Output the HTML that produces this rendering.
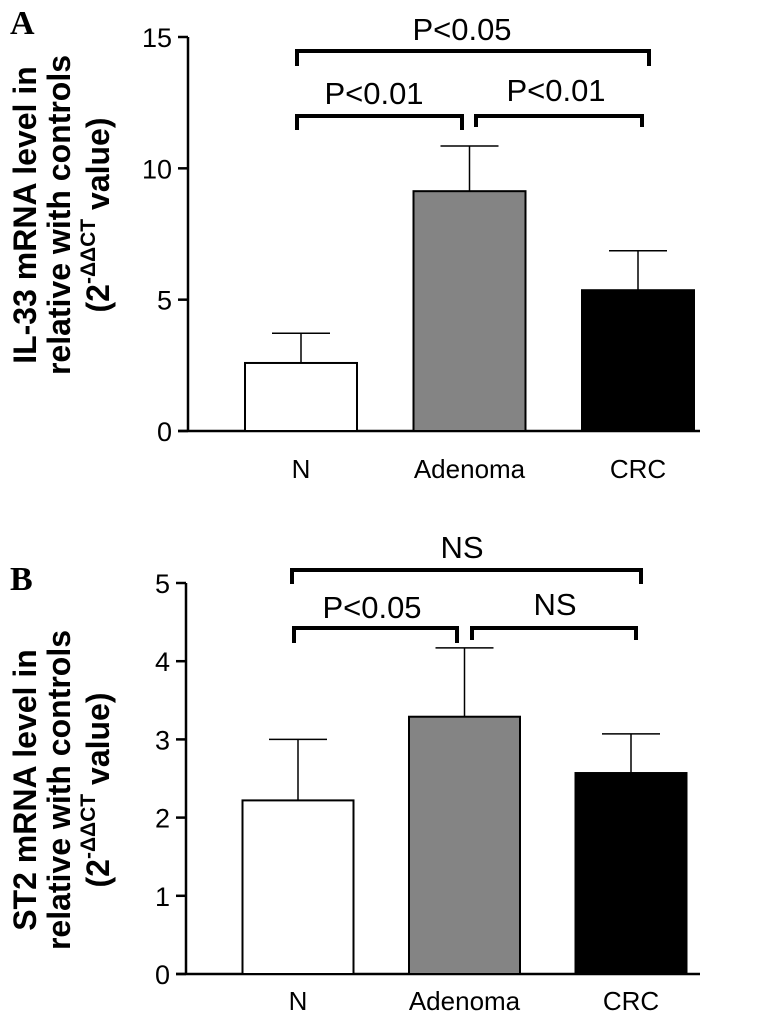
<!DOCTYPE html>
<html><head><meta charset="utf-8"><style>
html,body{margin:0;padding:0;background:#fff;}
svg{display:block;font-family:"Liberation Sans",Arial,sans-serif;}
</style></head><body>
<svg id="fig" width="783" height="1019" viewBox="0 0 783 1019" xmlns="http://www.w3.org/2000/svg"></svg>
<script>
const categories = ["N","Adenoma","CRC"];
const fills = ["#ffffff","#848484","#000000"];
const aValues = [2.59, 9.13, 5.36];
const aErrors = [3.72, 10.85, 6.86];
const aTicks = [0,5,10,15];
const bValues = [2.22, 3.29, 2.57];
const bErrors = [3.0, 4.17, 3.07];
const bTicks = [0,1,2,3,4,5];

const NS="http://www.w3.org/2000/svg";
const svg=document.getElementById('fig');
function el(tag,attrs,parent){const e=document.createElementNS(NS,tag);for(const k in attrs)e.setAttribute(k,attrs[k]);(parent||svg).appendChild(e);return e;}

function panel(cfg){
  const g=el('g',{});
  
  
  const y=v=>cfg.y0-(v/cfg.max)*(cfg.y0-cfg.yTop);
  const x=i=>cfg.x0+i*cfg.step;
  const ax=el('line',{x1:cfg.axisX,y1:cfg.yTop,x2:cfg.axisX,y2:cfg.y0,stroke:'#000','stroke-width':2.5},g);
  
  
  const xa=el('line',{x1:cfg.axisX-10,y1:cfg.y0,x2:cfg.xEnd,y2:cfg.y0,stroke:'#000','stroke-width':2.5},g);
  
  
  cfg.ticks.forEach(t=>{
    const tl=el('line',{x1:cfg.axisX-10,y1:y(t),x2:cfg.axisX,y2:y(t),stroke:'#000','stroke-width':2.5},g);
    
    
    const tx=el('text',{x:cfg.axisX-16,y:y(t)+10,'font-size':27,'text-anchor':'end'},g);
    tx.textContent=t;
    
    
  });
  cfg.values.forEach((v,i)=>{
    const cx=x(i);
    const ev=el('line',{x1:cx,y1:y(v),x2:cx,y2:y(cfg.errors[i]),stroke:'#000','stroke-width':1.5},g);
    
    
    const ec=el('line',{x1:cx-29,y1:y(cfg.errors[i]),x2:cx+29,y2:y(cfg.errors[i]),stroke:'#000','stroke-width':1.5},g);
    
    
    const r=el('rect',{x:cx-cfg.bw/2,y:y(v),width:cfg.bw,height:cfg.y0-y(v),fill:fills[i],stroke:'#000','stroke-width':2},g);
    
    
    const lb=el('text',{x:cx,y:cfg.labelY,'font-size':26,'text-anchor':'middle'},g);
    lb.textContent=categories[i];
    
    
  });
  cfg.brackets.forEach(b=>{
    const p=el('path',{d:`M${b.x1},${b.ty} V${b.y} H${b.x2} V${b.ty}`,fill:'none',stroke:'#000','stroke-width':4},g);
    
    
    const t=el('text',{x:b.lx,y:b.ly,'font-size':31,'text-anchor':'middle'},g);
    t.textContent=b.label;
    
    
  });
  const L=el('text',{x:10,y:cfg.letterY,'font-size':34,'font-weight':'bold','font-family':'Liberation Serif, serif'},g);
  L.textContent=cfg.letter;
  
  
  const tg=el('g',{transform:`translate(0,${cfg.titleY}) rotate(-90)`},g);
  
  
  const l1=el('text',{x:0,y:36,'font-size':32,'font-weight':'bold','text-anchor':'middle'},tg);
  l1.textContent=cfg.title1;
  const l2=el('text',{x:0,y:70,'font-size':32,'font-weight':'bold','text-anchor':'middle'},tg);
  l2.textContent='relative with controls';
  const l3=el('text',{x:0,y:109,'font-size':32,'font-weight':'bold','text-anchor':'middle'},tg);
  l3.innerHTML='(2<tspan dy="-14" font-size="21">-ΔΔCT</tspan><tspan dy="14"> value)</tspan>';
}

panel({name:'panel-a',letter:'A',letterY:34,title1:'IL-33 mRNA level in',titleY:215,
  values:aValues,errors:aErrors,ticks:aTicks,max:15,y0:431,yTop:37,axisX:188,xEnd:700,
  x0:301,step:168.5,bw:112,labelY:478,
  brackets:[
    {x1:297,x2:649,y:51,ty:66,label:'P<0.05',lx:462,ly:40},
    {x1:297,x2:462,y:116,ty:130,label:'P<0.01',lx:374,ly:104},
    {x1:476,x2:642,y:116,ty:127,label:'P<0.01',lx:556,ly:101}
  ]});
panel({name:'panel-b',letter:'B',letterY:590,title1:'ST2 mRNA level in',titleY:790,
  values:bValues,errors:bErrors,ticks:bTicks,max:5,y0:974,yTop:583,axisX:186,xEnd:700,
  x0:298,step:166.5,bw:111,labelY:1010,
  brackets:[
    {x1:292,x2:641,y:570,ty:584,label:'NS',lx:462,ly:558},
    {x1:294,x2:457,y:628,ty:643,label:'P<0.05',lx:372,ly:618},
    {x1:472,x2:636,y:628,ty:640,label:'NS',lx:555,ly:615}
  ]});
</script>
</body></html>
